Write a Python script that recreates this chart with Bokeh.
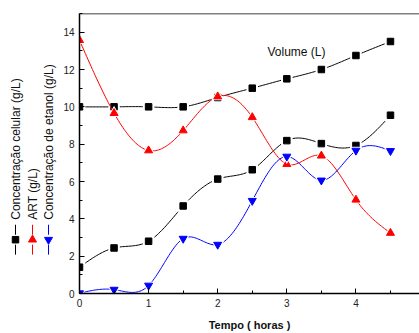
import numpy as np
from math import pi
from bokeh.plotting import figure
from bokeh.layouts import row
from bokeh.models import Range1d, SingleIntervalTicker, Label, Span
from bokeh.core.properties import value
from bokeh.embed import file_html
from bokeh.resources import INLINE

tempo = [0, 0.5, 1, 1.5, 2, 2.5, 3, 3.5, 4, 4.5]
volume = [10.0, 10.0, 10.0, 10.0, 10.5, 11.0, 11.5, 12.0, 12.75, 13.5]
celular = [1.41, 2.44, 2.80, 4.69, 6.13, 6.63, 8.19, 8.03, 7.93, 9.55]
art = [13.57, 9.66, 7.66, 8.73, 10.55, 9.44, 6.93, 7.38, 5.02, 3.24]
etanol = [0.02, 0.21, 0.43, 2.94, 2.62, 4.97, 7.34, 6.06, 7.66, 7.64]

legend_labels = ["Concentração celular (g/L)", "ART (g/L)", "Concentração de etanol (g/L)"]
volume_label = "Volume (L)"
x_title = "Tempo ( horas )"

FONT = "Liberation Sans"
W, H = 419, 333
LEG_W = 58
TOP, BOTTOM = 13, 39


def natural_spline(x, y, n=24):
    x = np.asarray(x, float)
    y = np.asarray(y, float)
    N = len(x)
    h = np.diff(x)
    A = np.zeros((N, N))
    b = np.zeros(N)
    A[0, 0] = 1
    A[-1, -1] = 1
    for i in range(1, N - 1):
        A[i, i - 1] = h[i - 1]
        A[i, i] = 2 * (h[i - 1] + h[i])
        A[i, i + 1] = h[i]
        b[i] = 6 * ((y[i + 1] - y[i]) / h[i] - (y[i] - y[i - 1]) / h[i - 1])
    M = np.linalg.solve(A, b)
    xs, ys = [], []
    for i in range(N - 1):
        t = np.linspace(x[i], x[i + 1], n, endpoint=(i == N - 2))
        a = (x[i + 1] - t) / h[i]
        bb = (t - x[i]) / h[i]
        s = a * y[i] + bb * y[i + 1] + ((a ** 3 - a) * M[i] + (bb ** 3 - bb) * M[i + 1]) * h[i] ** 2 / 6
        xs.extend(t.tolist())
        ys.extend(s.tolist())
    return xs, ys


# ---------------- main plot ----------------
p = figure(width=W - LEG_W, height=H, x_range=Range1d(0, 4.92), y_range=Range1d(0, 15),
           output_backend="svg", toolbar_location=None,
           min_border_left=79 - LEG_W, min_border_right=0, min_border_top=TOP, min_border_bottom=BOTTOM)
p.outline_line_color = None
p.xgrid.visible = False
p.ygrid.visible = False

series = [
    (volume, "black", "square", 6.5),
    (celular, "black", "square", 6.5),
    (art, "#ff0000", "triangle", 8),
    (etanol, "#0000ff", "inverted_triangle", 8),
]
for ys, col, mk, sz in series:
    sx, sy = natural_spline(tempo, ys)
    p.line(sx, sy, line_color=col, line_width=1)
    p.scatter(tempo, ys, marker=mk, size=sz + 5, fill_color="white", line_color=None)
    p.scatter(tempo, ys, marker=mk, size=sz, fill_color=col, line_color=col)

p.add_layout(Span(location=15, dimension="width", line_color="black", line_width=1.5))

for ax in (p.xaxis[0], p.yaxis[0]):
    ax.axis_line_width = 1.5
    ax.axis_line_color = "black"
    ax.major_tick_in = 5
    ax.major_tick_out = 0
    ax.minor_tick_in = 3
    ax.minor_tick_out = 0
    ax.major_tick_line_color = "black"
    ax.minor_tick_line_color = "black"
    ax.major_label_text_font = FONT
    ax.major_label_text_font_size = "10px"
    ax.major_label_text_color = "#222222"

p.xaxis[0].ticker = SingleIntervalTicker(interval=1, num_minor_ticks=2)
p.yaxis[0].ticker = SingleIntervalTicker(interval=2, num_minor_ticks=2)
p.xaxis[0].major_label_standoff = 5
p.yaxis[0].major_label_standoff = 5
p.xaxis[0].axis_label = x_title
p.xaxis[0].axis_label_text_font = FONT
p.xaxis[0].axis_label_text_font_size = "11px"
p.xaxis[0].axis_label_text_font_style = "bold"
p.xaxis[0].axis_label_text_color = "#111111"
p.xaxis[0].axis_label_standoff = 9

p.add_layout(Label(x=2.72, y=12.93, text=volume_label, text_font=FONT, text_font_size="12px",
                   text_baseline="middle", text_align="left", text_color="#111111"))

# ---------------- rotated legend panel (data units = page pixels, y flipped) ----------------
lg = figure(width=LEG_W, height=H, x_range=Range1d(0, LEG_W), y_range=Range1d(BOTTOM, H - TOP),
            output_backend="svg", toolbar_location=None, x_axis_type=None, y_axis_type=None,
            min_border_left=0, min_border_right=0, min_border_top=TOP, min_border_bottom=BOTTOM)
lg.outline_line_color = None
lg.xgrid.visible = False
lg.ygrid.visible = False

leg_x = [15, 32, 48]
leg_col = ["black", "#ff0000", "#0000ff"]
leg_mk = ["square", "triangle", "inverted_triangle"]
leg_sz = [6.5, 8, 8]
for lx, col, mk, sz, txt in zip(leg_x, leg_col, leg_mk, leg_sz, legend_labels):
    lg.segment(x0=[lx, lx], y0=[H - 255, H - 235], x1=[lx, lx], y1=[H - 245, H - 225],
               line_color=col, line_width=1)
    lg.scatter([lx], [H - 240], marker=mk, size=sz, fill_color=col, line_color=col)
    lg.text([lx], [H - 220], text=[txt], angle=pi / 2, text_align="left", text_baseline="middle",
            text_color="#111111", text_font=value(FONT), text_font_size="12px")

open("out.html", "w").write(file_html(row(lg, p), INLINE))
